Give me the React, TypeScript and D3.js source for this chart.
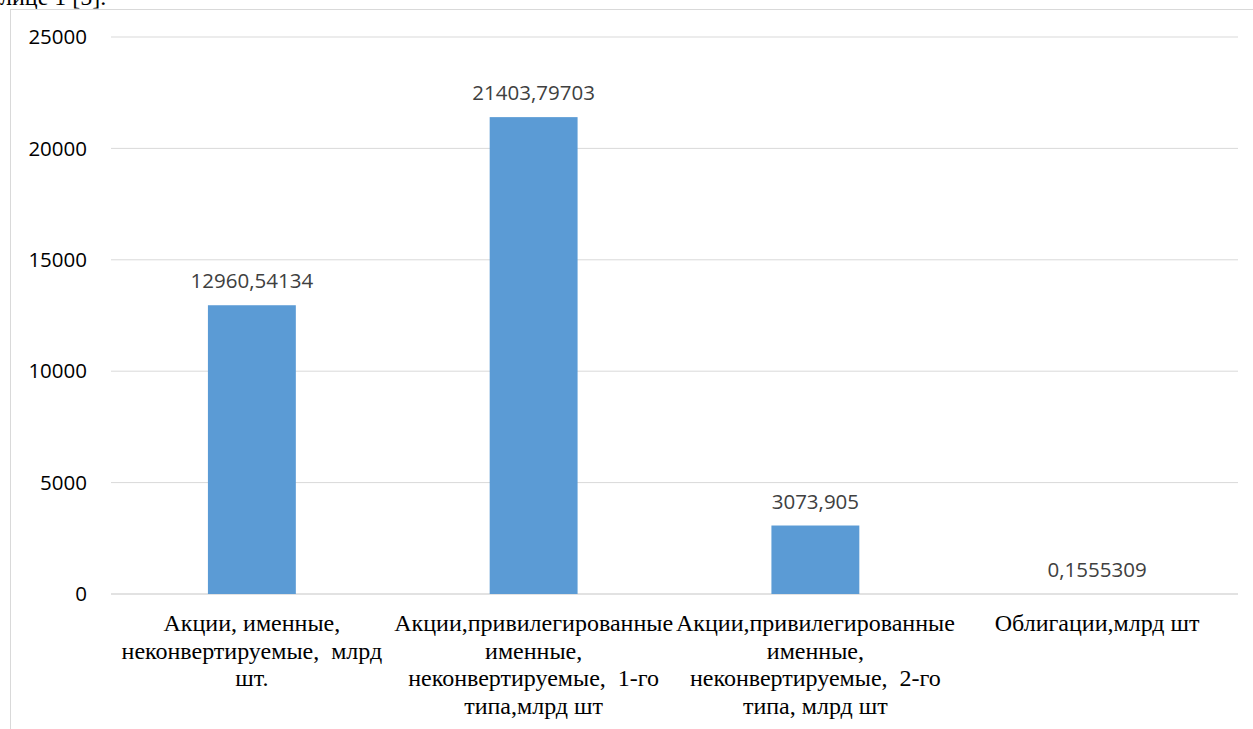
import React from "react";
import * as d3 from "d3";

const categories: string[][] = [
  ["Акции, именные,", "неконвертируемые,\u00a0\u00a0млрд", "шт."],
  ["Акции,привилегированные", "именные,", "неконвертируемые,\u00a0\u00a01-го", "типа,млрд шт"],
  ["Акции,привилегированные", "именные,", "неконвертируемые,\u00a0\u00a02-го", "типа, млрд шт"],
  ["Облигации,млрд шт"],
];
const values: number[] = [12960.54134, 21403.79703, 3073.905, 0.1555309];
const valueLabels: string[] = ["12960,54134", "21403,79703", "3073,905", "0,1555309"];
const yTicks: number[] = [0, 5000, 10000, 15000, 20000, 25000];

const W = 1253;
const H = 729;
const left = 111;
const right = 1238;
const top = 37;
const bottom = 594;
const serif = "'Liberation Serif', 'Times New Roman', Tinos, 'DejaVu Serif', serif";

export default function App() {
  const x = d3.scaleBand<number>().domain(d3.range(values.length)).range([left, right]).paddingInner(0.688).paddingOuter(0.344);
  const band = d3.scaleBand<number>().domain(d3.range(values.length)).range([left, right]);
  const y = d3.scaleLinear().domain([0, 25000]).range([bottom, top]);
  return (
    <svg width={W} height={H} style={{ position: "absolute", left: 0, top: 0, background: "#fff" }}>
      <text x={0} y={5} fontFamily={serif} fontSize={24} fill="#000">лице 1 [5].</text>
      <rect x={10.5} y={9.5} width={W} height={H} fill="#fff" stroke="#d9d9d9" strokeWidth={1} />
      {yTicks.map((t) => (
        <g key={t}>
          <line x1={left} x2={right} y1={y(t)} y2={y(t)} stroke="#d9d9d9" strokeWidth={t === 0 ? 1.5 : 1} />
          <text x={87} y={y(t)} dy="0.35em" textAnchor="end" fontFamily="Open Sans" fontSize={20.5} fill="#000">{t}</text>
        </g>
      ))}
      {values.map((v, i) => (
        <g key={i}>
          <rect x={x(i)} y={y(v)} width={x.bandwidth()} height={bottom - y(v)} fill="#5b9bd5" />
          <text x={(x(i) as number) + x.bandwidth() / 2} y={y(v) - 17} textAnchor="middle" fontFamily="Open Sans" fontSize={20.5} fill="#404040">{valueLabels[i]}</text>
          <text textAnchor="middle" fontFamily={serif} fontSize={24} fill="#000">
            {categories[i].map((ln, j) => (
              <tspan key={j} x={(band(i) as number) + band.bandwidth() / 2} y={631 + j * 27.7}>{ln}</tspan>
            ))}
          </text>
        </g>
      ))}
    </svg>
  );
}
